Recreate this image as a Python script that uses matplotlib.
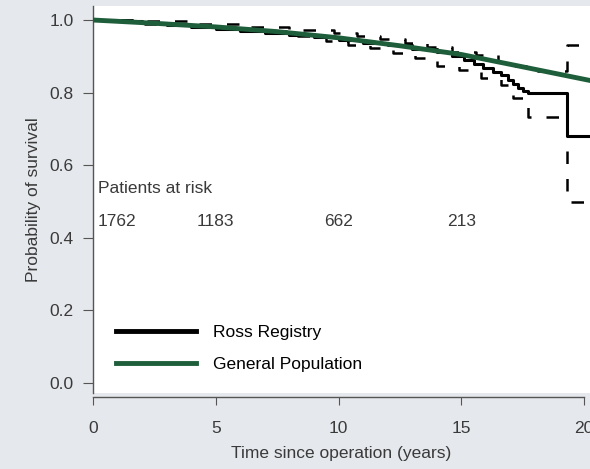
import numpy as np
import matplotlib.pyplot as plt

# Kaplan-Meier estimate (Ross Registry)
ross_t = [0, 1, 2, 3, 4, 5, 6, 7, 8, 9, 10, 11, 12, 13, 14, 14.6, 15.1, 15.5,
          15.9, 16.3, 16.6, 16.9, 17.1, 17.3, 17.5, 17.7, 19.3, 20.2]
ross_s = [1.0, 0.996, 0.991, 0.985, 0.980, 0.975, 0.969, 0.963, 0.958, 0.952,
          0.945, 0.938, 0.930, 0.921, 0.911, 0.901, 0.891, 0.880, 0.869, 0.858,
          0.848, 0.836, 0.825, 0.814, 0.805, 0.799, 0.680, 0.680]

# confidence bounds
upper_t = [0, 2, 4, 6, 8, 9.8, 10.75, 11.7, 12.7, 13.6, 14.6, 15.6, 16.5,
           17.1, 17.7, 19.3, 20.2]
upper_s = [1.0, 0.996, 0.990, 0.982, 0.973, 0.964, 0.957, 0.948, 0.936, 0.925,
           0.912, 0.903, 0.885, 0.872, 0.860, 0.930, 0.930]
lower_t = [0, 2, 4, 6, 8, 9.5, 10.4, 11.3, 12.2, 13.1, 14.0, 14.9, 15.8, 16.6,
           17.1, 17.7, 19.3, 20.2]
lower_s = [1.0, 0.989, 0.980, 0.970, 0.956, 0.942, 0.931, 0.922, 0.909, 0.895,
           0.872, 0.862, 0.840, 0.821, 0.785, 0.733, 0.500, 0.500]

# general population (smooth)
pop_t = [0, 2.5, 5, 7.5, 10, 12.5, 15, 17.5, 20.2]
pop_s = [1.0, 0.991, 0.981, 0.968, 0.951, 0.929, 0.905, 0.871, 0.834]

risk_t = [0, 5, 10, 15]
risk_n = ["1762", "1183", "662", "213"]

bg = "#e5e8ec"
txt = "#3a3a3a"
green = "#1e5e3a"

plt.rcParams["font.family"] = ["Liberation Sans", "DejaVu Sans"]
plt.rcParams["font.size"] = 12.5

fig = plt.figure(figsize=(5.9, 4.69), dpi=100, facecolor=bg)
ax = fig.add_axes([93 / 590, 76 / 469, 497 / 590, 387 / 469])
ax.set_facecolor("white")

ax.step(ross_t, ross_s, where="post", color="black", lw=2.2, label="Ross Registry", zorder=3)
ax.step(upper_t, upper_s, where="post", color="black", lw=1.8, dashes=(5, 6), zorder=3)
ax.step(lower_t, lower_s, where="post", color="black", lw=1.8, dashes=(5, 6), zorder=3)
ax.plot(pop_t, pop_s, color=green, lw=3.5, label="General Population", zorder=4)

ax.text(0.2, 0.537, "Patients at risk", color=txt, va="center", ha="left")
for t, n in zip(risk_t, risk_n):
    if t == 0:
        ax.text(0.2, 0.446, n, color=txt, va="center", ha="left")
    else:
        ax.text(t, 0.446, n, color=txt, va="center", ha="center")

ax.set_xlim(0, 20.24)
ax.set_ylim(-0.0275, 1.0386)
ax.set_xticks([0, 5, 10, 15, 20])
ax.set_yticks([0.0, 0.2, 0.4, 0.6, 0.8, 1.0])
ax.set_yticklabels(["0.0", "0.2", "0.4", "0.6", "0.8", "1.0"])

for s in ["top", "right"]:
    ax.spines[s].set_visible(False)
ax.spines["bottom"].set_position(("outward", 3))
ax.spines["bottom"].set_bounds(0, 20)
for s in ["left", "bottom"]:
    ax.spines[s].set_color("#555555")
    ax.spines[s].set_linewidth(1.0)
ax.tick_params(axis="y", length=7, pad=7, colors="#555555", labelcolor=txt)
ax.tick_params(axis="x", length=6, pad=11, colors="#555555", labelcolor=txt)

ax.set_xlabel("Time since operation (years)", color=txt, labelpad=7)
ax.set_ylabel("Probability of survival", color=txt, labelpad=6)

leg = ax.legend(loc="lower left", bbox_to_anchor=(0.046, 0.053), frameon=False,
                borderpad=0, borderaxespad=0,
                handlelength=4.6, handletextpad=1.0, labelspacing=1.0)
for h in leg.get_lines():
    h.set_linewidth(3.5)

fig.savefig("out.png", dpi=100, facecolor=bg)
